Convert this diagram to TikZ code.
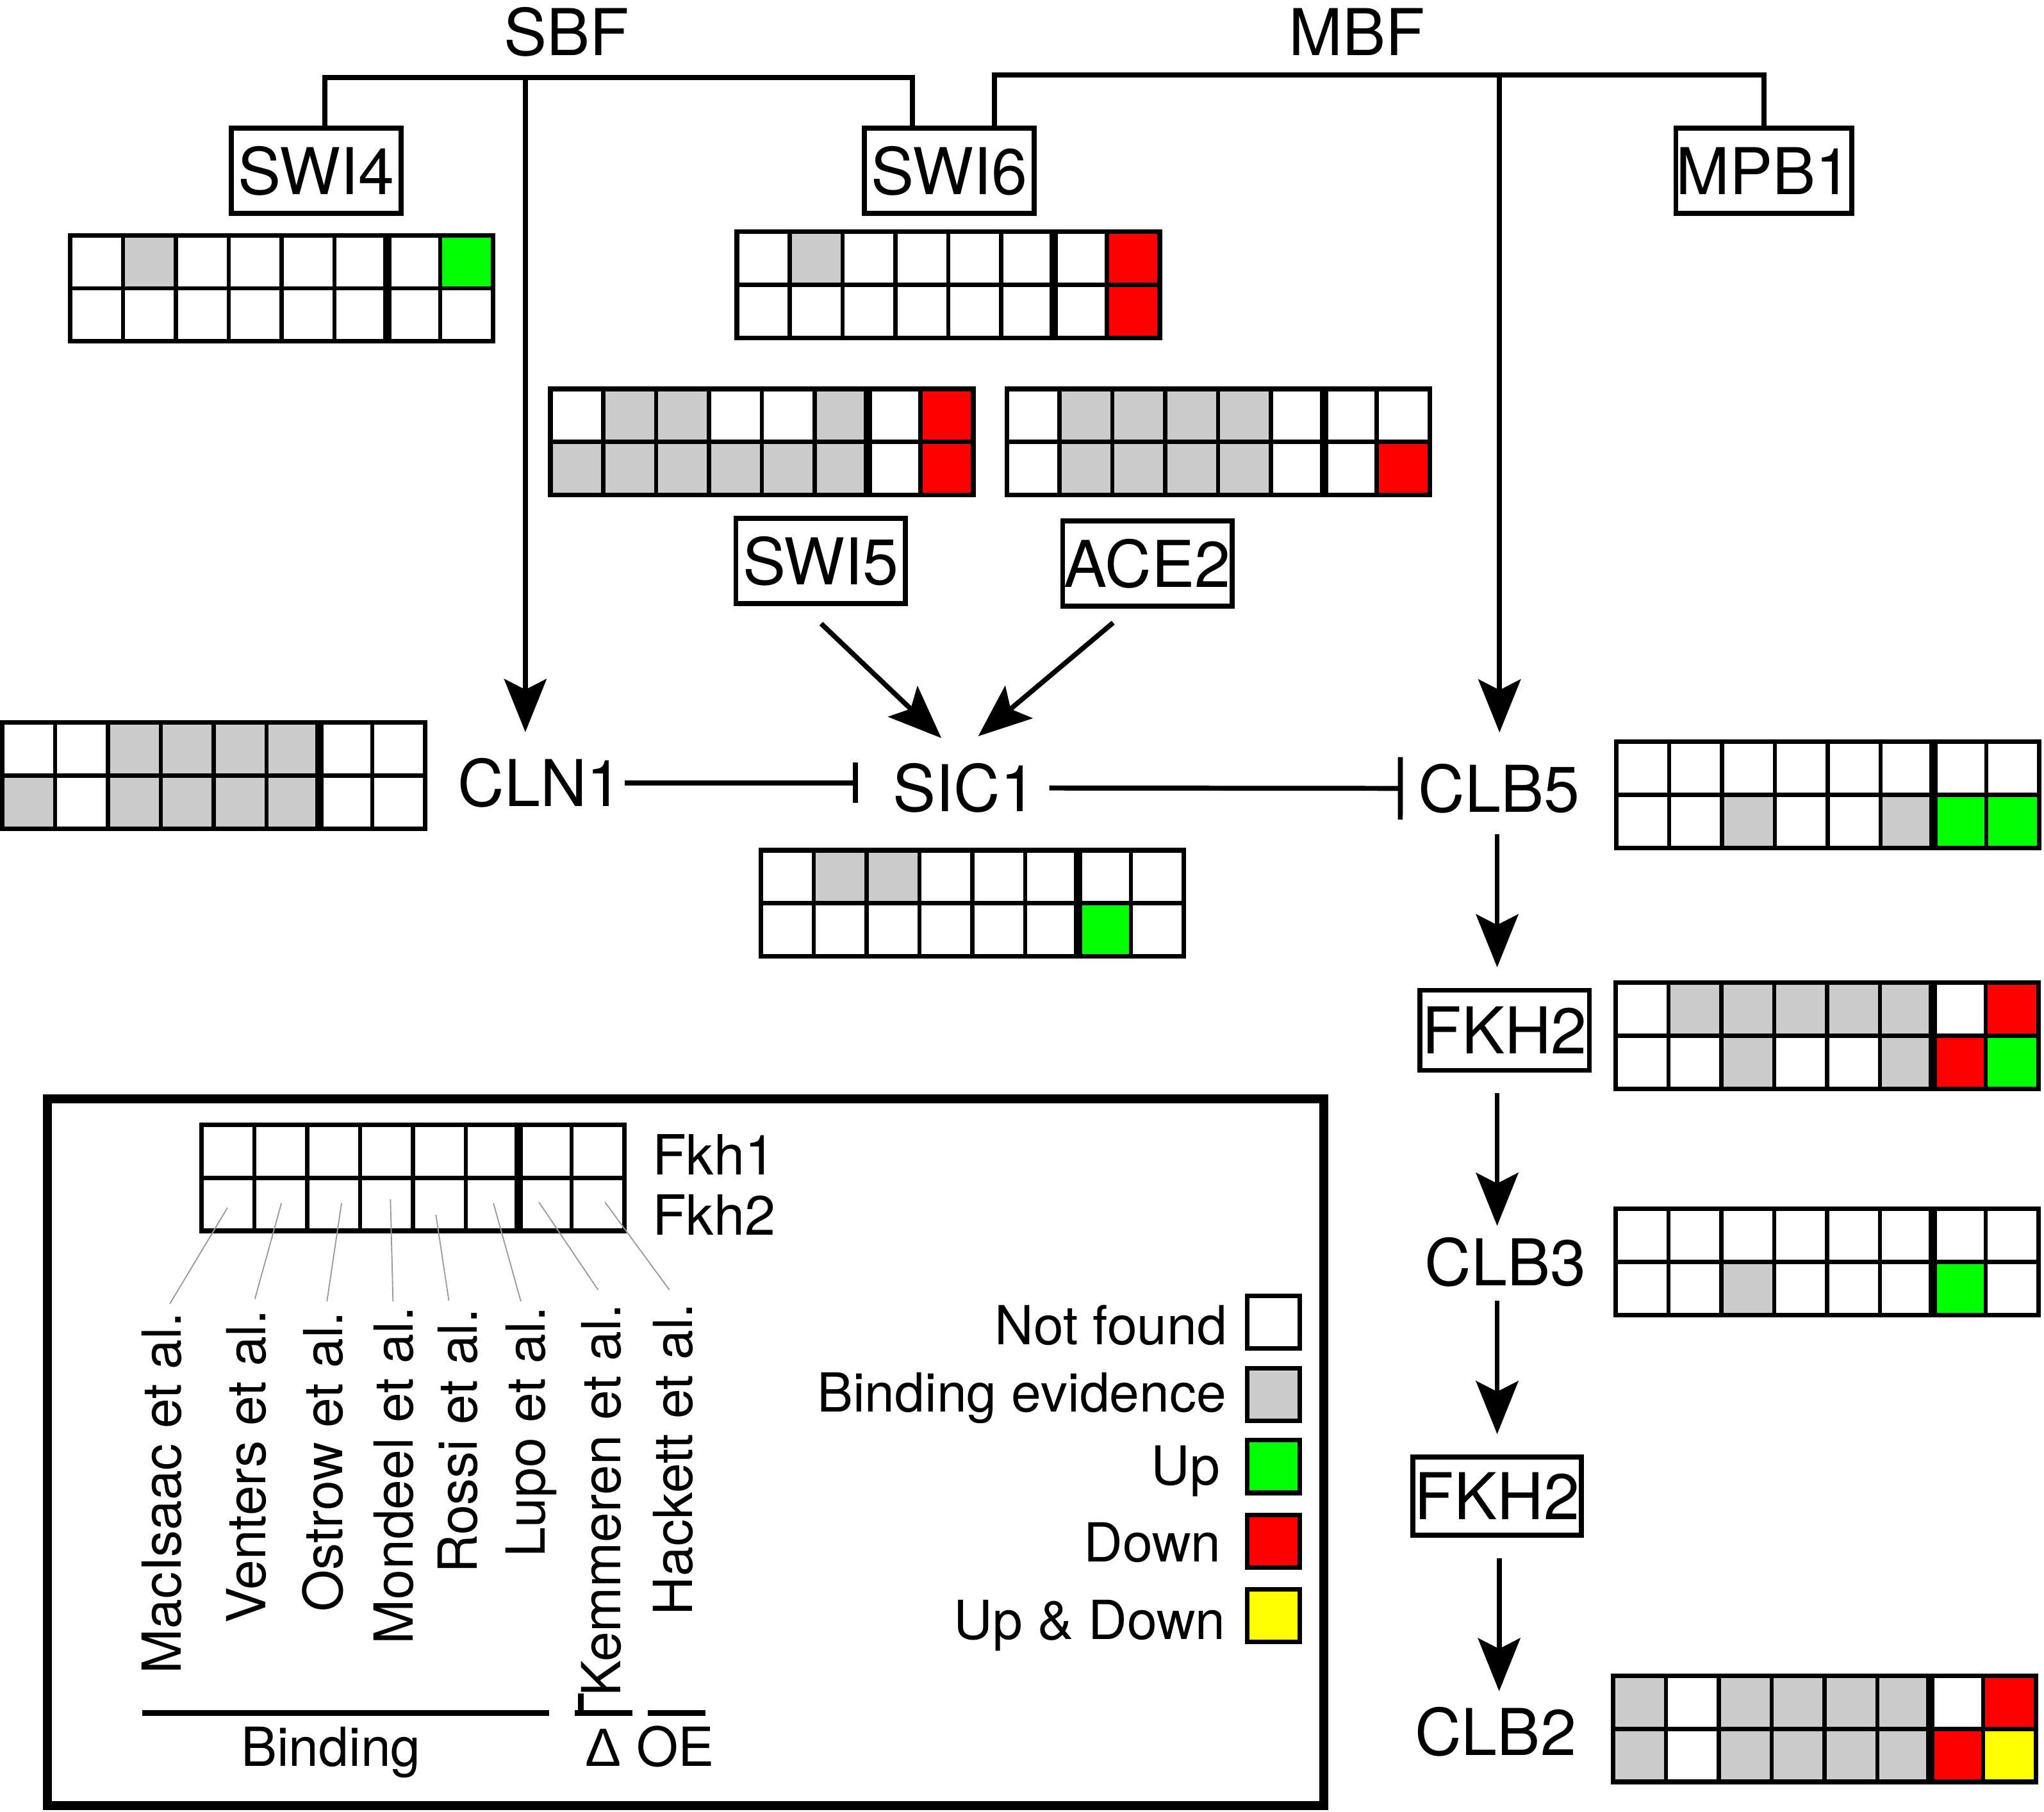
\documentclass[tikz,border=0pt]{standalone}
\usepackage{fontspec}
\setmainfont{TeX Gyre Heros}
\newfontfamily\lib{Liberation Sans}
\usetikzlibrary{arrows.meta,calc}
\definecolor{cW}{HTML}{FFFFFF}
\definecolor{cG}{HTML}{CCCCCC}
\definecolor{cU}{HTML}{00FF00}
\definecolor{cD}{HTML}{FF0000}
\definecolor{cY}{HTML}{FFFF00}
\newcommand\bigf{\fontsize{49.5}{59}\selectfont}
\newcommand\midf{\fontsize{41.3}{50}\selectfont}
\newcommand\fkhf{\fontsize{42.5}{50}\selectfont}
\newcommand\dgrid[4]{%
\begin{scope}[shift={(#1,#2)}]
\foreach \cc [count=\ii from 0] in {#3} \fill[\cc] (\ii*40.55,0) rectangle ++(40.55,40.7);
\foreach \cc [count=\ii from 0] in {#4} \fill[\cc] (\ii*40.55,40.7) rectangle ++(40.55,40.7);
\foreach \ii in {1,2,3,4,5,7} \draw[line width=3.2pt] (\ii*40.55,0) -- ++(0,81.4);
\draw[line width=6.4pt] (6*40.55,0) -- ++(0,81.4);
\draw[line width=3.4pt] (0,40.7) -- ++(324.4,0);
\draw[line width=3.6pt] (0,0) rectangle (324.4,81.4);
\end{scope}}
\begin{document}
\begin{tikzpicture}[x=1pt,y=-1pt,line join=miter,
  ln/.style={line width=3.8pt},
  arr/.style={line width=3.8pt,-{Stealth[length=41pt,width=33pt,inset=8.5pt,line width=0pt]}},
  box/.style={draw,line width=3.8pt,inner sep=0pt,outer sep=0pt,minimum width=130pt,minimum height=65.2pt,font=\bigf},
  lbl/.style={inner sep=0pt,outer sep=0pt,font=\bigf},
  mlbl/.style={inner sep=0pt,outer sep=0pt,font=\midf},
  rlbl/.style={inner sep=0pt,outer sep=0pt,font=\midf,rotate=90,anchor=base east},
  sw/.style={draw,line width=3.5pt,minimum width=40.5pt,minimum height=40.5pt,inner sep=0pt,outer sep=0pt},
  lead/.style={line width=0.9pt,black!40}]
\useasboundingbox (0,0) rectangle (1568,1389.6);
\fill[white] (0,0) rectangle (1568,1389.6);

% ---- titles and boxes
\node[lbl] (sbf) at (434.5,24.3) {SBF};
\node[lbl] (mbf) at (1041,24.6) {MBF};
\node[box] (swi4) at (242.6,131) {SWI4};
\node[box] (swi6) at (728.2,131) {SWI6};
\node[box] (mpb1) at (1353,130.9) {MPB1};
\node[box] (swi5) at (629.5,430.3) {SWI5};
\node[box] (ace2) at (880.2,432.3) {ACE2};
\node[lbl] (cln1) at (414.5,600.5) {CLN1};
\node[lbl] (sic1) at (739.9,604.5) {SIC1};
\node[lbl] (clb5) at (1150,604.8) {CLB5};
\node[box,minimum height=61.5pt] (fkh2a) at (1154.2,790.4) {FKH2};
\node[lbl] (clb3) at (1154.8,968.3) {CLB3};
\node[box,minimum width=129.2pt,minimum height=59.8pt] (fkh2b) at (1148.5,1147.8) {FKH2};
\node[lbl] (clb2) at (1147.3,1328.5) {CLB2};

% ---- grids
\dgrid{53.8}{180.5}{cW,cG,cW,cW,cW,cW,cW,cU}{cW,cW,cW,cW,cW,cW,cW,cW}
\dgrid{565.2}{177.8}{cW,cG,cW,cW,cW,cW,cW,cD}{cW,cW,cW,cW,cW,cW,cW,cD}
\dgrid{422.3}{298.4}{cW,cG,cG,cW,cW,cG,cW,cD}{cG,cG,cG,cG,cG,cG,cW,cD}
\dgrid{772.3}{298.4}{cW,cG,cG,cG,cG,cW,cW,cW}{cW,cG,cG,cG,cG,cW,cW,cD}
\dgrid{1.8}{554.3}{cW,cW,cG,cG,cG,cG,cW,cW}{cG,cW,cG,cG,cG,cG,cW,cW}
\dgrid{583.8}{652.2}{cW,cG,cG,cW,cW,cW,cW,cW}{cW,cW,cW,cW,cW,cW,cU,cW}
\dgrid{1239.8}{569.1}{cW,cW,cW,cW,cW,cW,cW,cW}{cW,cW,cG,cW,cW,cG,cU,cU}
\dgrid{1239.3}{753.8}{cW,cG,cG,cG,cG,cG,cW,cD}{cW,cW,cG,cW,cW,cG,cD,cU}
\dgrid{1239.4}{927.4}{cW,cW,cW,cW,cW,cW,cW,cW}{cW,cW,cG,cW,cW,cW,cU,cW}
\dgrid{1237.4}{1285.6}{cG,cW,cG,cG,cG,cG,cW,cD}{cG,cW,cG,cG,cG,cG,cD,cY}

% ---- brackets
\coordinate (sbfL) at (249.3,59.6);
\coordinate (sbfR) at (700,59.6);
\coordinate (sbfM) at (403,59.6);
\draw[ln] (swi4.north -| sbfL) -- (sbfL) -- (sbfR) -- (sbfR |- swi6.north);
\coordinate (mbfL) at (763,57.4);
\coordinate (mbfR) at (1353,57.4);
\coordinate (mbfM) at (1150.3,57.4);
\draw[ln] (swi6.north -| mbfL) -- (mbfL) -- (mbfR) -- (mpb1.north);

% ---- arrows
\draw[arr,shorten >=20pt] (sbfM) -- (sbfM |- cln1.north);
\draw[arr,shorten >=24pt] (mbfM) -- (mbfM |- clb5.north);
\coordinate (s5o) at ($(swi5.south)+(0.4,15.5)$);
\coordinate (s5t) at ($(sic1.north)+(-17.8,-19.4)$);
\draw[arr] (s5o) -- (s5t);
\coordinate (a2o) at ($(ace2.south)+(-26.3,12.8)$);
\coordinate (a2t) at ($(sic1.north)+(10.5,-20.8)$);
\draw[arr] (a2o) -- (a2t);
\draw[ln,-{Bar[width=31pt]},shorten <=1.7pt,shorten >=26.9pt] (cln1.east) -- (sic1.west |- cln1.east);
\draw[ln,-{Bar[width=48pt]},shorten <=10pt,shorten >=12pt] (sic1.east) -- (clb5.west);
\coordinate (colA) at (1148.5,0);
\coordinate (colB) at (1150,0);
\draw[arr,shorten <=16pt,shorten >=17.6pt] (clb5.south -| colA) -- (fkh2a.north -| colA);
\draw[arr,shorten <=17.3pt,shorten >=9pt] (fkh2a.south -| colA) -- (clb3.north -| colA);
\draw[arr,shorten <=10.7pt,shorten >=17.8pt] (clb3.south -| colA) -- (fkh2b.north -| colA);
\draw[arr,shorten <=17.6pt,shorten >=12.2pt] (fkh2b.south -| colB) -- (clb2.north -| colB);

% ---- legend
\draw[line width=7pt] (36.5,843) rectangle (1015.5,1385);
\dgrid{154.5}{862.8}{cW,cW,cW,cW,cW,cW,cW,cW}{cW,cW,cW,cW,cW,cW,cW,cW}
\node[inner sep=0pt,font=\fkhf,anchor=base west] (fkh1l) at (500.2,901.3) {Fkh1};
\node[inner sep=0pt,font=\fkhf,anchor=base west] (fkh2l) at (500.2,947.4) {Fkh2};

\node[rlbl] (l1) at (138.7,1006.8) {MacIsaac et al.};
\node[rlbl] (l2) at (203.6,1004.8) {Venters et al.};
\node[rlbl] (l3) at (262.7,1006) {Ostrow et al.};
\node[rlbl] (l4) at (316.7,1002.4) {Mondeel et al.};
\node[rlbl] (l5) at (366,1003.7) {Rossi et al.};
\node[rlbl] (l6) at (418,1002.4) {Lupo et al.};
\node[rlbl] (l7) at (476.2,1000.4) {Kemmeren et al.};
\node[rlbl] (l8) at (531,999.6) {Hackett et al.};

\draw[lead] (130.3,1000.2) -- (174.5,926.5);
\draw[lead] (195.5,996.6) -- (215.9,922.9);
\draw[lead] (250.8,998.4) -- (262,922.9);
\draw[lead] (301.5,998.4) -- (299.5,920);
\draw[lead] (344.3,997.7) -- (334.4,931.9);
\draw[lead] (399.6,998.4) -- (378.5,922.9);
\draw[lead] (458.8,989.5) -- (413.4,922.2);
\draw[lead] (513.5,989.5) -- (464.1,922.2);

\draw[line width=4.3pt] (109.3,1314) -- (421.4,1314);
\draw[line width=4.3pt] (441,1314) -- (484.9,1314);
\draw[line width=4.3pt] (445.5,1299) -- (445.5,1316);
\draw[line width=4.3pt] (497,1314) -- (541,1314);
\node[mlbl,anchor=base] (bind) at (253.8,1355) {Binding};
\node[mlbl,anchor=base] (delta) at (463,1355) {{\lib Δ}};
\node[mlbl,anchor=base] (oe) at (518,1355) {OE};

\node[sw,fill=cW] (k1) at (977,1014.3) {};
\node[sw,fill=cG] (k2) at (977,1069.7) {};
\node[sw,fill=cU] (k3) at (977,1125) {};
\node[sw,fill=cD] (k4) at (977,1182.3) {};
\node[sw,fill=cY] (k5) at (977,1239.5) {};
\node[mlbl,anchor=base east] (t1) at (941.3,1031.7) {Not found};
\node[mlbl,anchor=base east] (t2) at (940.7,1083) {Binding evidence};
\node[mlbl,anchor=base east] (t3) at (935.9,1139.3) {Up};
\node[mlbl,anchor=base east] (t4) at (936.6,1198.2) {Down};
\node[mlbl,anchor=base east] (t5) at (940.1,1257.4) {Up \& Down};
\end{tikzpicture}
\end{document}
